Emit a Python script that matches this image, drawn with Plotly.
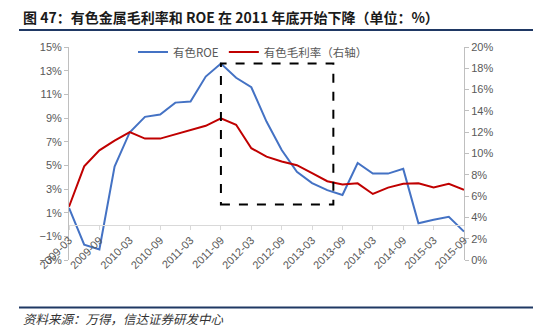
import plotly.graph_objects as go

# ---------------- data ----------------
quarters = [
    "2009-03", "2009-06", "2009-09", "2009-12",
    "2010-03", "2010-06", "2010-09", "2010-12",
    "2011-03", "2011-06", "2011-09", "2011-12",
    "2012-03", "2012-06", "2012-09", "2012-12",
    "2013-03", "2013-06", "2013-09", "2013-12",
    "2014-03", "2014-06", "2014-09", "2014-12",
    "2015-03", "2015-06", "2015-09",
]
roe = [1.4, -1.7, -2.1, 4.9, 7.8, 9.1, 9.3, 10.3, 10.4, 12.5, 13.6, 12.4,
       11.6, 8.7, 6.3, 4.45, 3.5, 2.9, 2.5, 5.2, 4.3, 4.3, 4.7, 0.1,
       0.4, 0.65, -0.6]
gross_margin = [5.0, 8.8, 10.3, 11.2, 12.0, 11.4, 11.4, 11.8, 12.2, 12.6, 13.3, 12.7,
                10.5, 9.7, 9.25, 8.9, 8.15, 7.4, 7.1, 7.2, 6.2, 6.8, 7.15, 7.2,
                6.8, 7.15, 6.6]
tick_labels = quarters[::2]
left_ticks = list(range(-3, 16, 2))
right_ticks = list(range(0, 21, 2))

series_names = ["有色ROE", "有色毛利率（右轴）"]
title_text = "图 47：有色金属毛利率和 ROE 在 2011 年底开始下降（单位：%）"
source_text = "资料来源：万得，信达证券研发中心"

# highlight box (category index / left-axis units)
box_start = quarters.index("2011-09")
box_end = 17.4
box_low = 1.7
box_high = max(roe)

# ---------------- figure ----------------
W, H = 547, 335
ML, MR, MT, MB = 69, 83, 47, 75
plot_w = W - ML - MR
plot_h = H - MT - MB

def px_x(p):
    return (p - ML) / plot_w

def px_y(p):
    return (H - MB - p) / plot_h

tick_font = dict(family="Liberation Sans, Arial", size=11, color="#595959")
axis_col = "#bfbfbf"

fig = go.Figure()
fig.add_trace(go.Scatter(x=quarters, y=roe, name=series_names[0], mode="lines",
                         line=dict(color="#4472C4", width=2), yaxis="y"))
fig.add_trace(go.Scatter(x=quarters, y=gross_margin, name=series_names[1], mode="lines",
                         line=dict(color="#C00000", width=2), yaxis="y2"))

lo, hi = left_ticks[0], left_ticks[-1]
fig.update_layout(
    width=W, height=H,
    margin=dict(l=ML, r=MR, t=MT, b=MB, pad=0),
    paper_bgcolor="white", plot_bgcolor="white",
    showlegend=True,
    legend=dict(orientation="h", x=px_x(133), xanchor="left", y=px_y(52), yanchor="middle",
                bgcolor="rgba(0,0,0,0)", font=dict(family="Noto Sans CJK SC", size=11.5, color="#595959"),
                itemwidth=30, tracegroupgap=0),
    xaxis=dict(type="category", categoryorder="array", categoryarray=quarters,
               range=[0, len(quarters) - 1], anchor="free", position=(0 - lo) / (hi - lo),
               tickmode="array", tickvals=tick_labels, ticktext=tick_labels, tickangle=-45,
               tickfont=tick_font, showline=True, linecolor="#d9d9d9", linewidth=1,
               ticks="outside", ticklen=4, tickcolor="#d9d9d9", showgrid=False, zeroline=False),
    yaxis=dict(range=[lo, hi], tickmode="array", tickvals=left_ticks,
               ticktext=[("−" if v < 0 else "") + f"{abs(v)}%" for v in left_ticks],
               tickfont=tick_font, showline=True, linecolor=axis_col, linewidth=1,
               ticks="outside", ticklen=4, tickcolor=axis_col, showgrid=False, zeroline=False),
    yaxis2=dict(range=[right_ticks[0], right_ticks[-1]], overlaying="y", side="right", anchor="x",
                tickmode="array", tickvals=right_ticks, ticktext=[f"{v}%" for v in right_ticks],
                tickfont=tick_font, showline=True, linecolor=axis_col, linewidth=1,
                ticks="outside", ticklen=4, tickcolor=axis_col, showgrid=False, zeroline=False),
)

# dashed highlight box
fig.add_shape(type="rect", xref="x", yref="y", x0=box_start, x1=box_end, y0=box_low, y1=box_high,
              line=dict(color="black", width=2, dash="dash"), fillcolor="rgba(0,0,0,0)")

# title, rules, source
fig.add_annotation(text=title_text, xref="paper", yref="paper", x=px_x(21), y=px_y(17),
                   xanchor="left", yanchor="middle", showarrow=False,
                   font=dict(family="Noto Sans CJK SC", size=14, color="#1a1a1a", weight="bold"))
for ly in (30, 307.5):
    fig.add_shape(type="line", xref="paper", yref="paper", x0=px_x(19), x1=px_x(533),
                  y0=px_y(ly), y1=px_y(ly), line=dict(color="#1f3864", width=2))
fig.add_annotation(text=source_text, xref="paper", yref="paper", x=px_x(21), y=px_y(318),
                   xanchor="left", yanchor="middle", showarrow=False,
                   font=dict(family="Noto Sans CJK SC", size=12.5, color="#333333", style="italic"))

fig.write_html("out.html")
